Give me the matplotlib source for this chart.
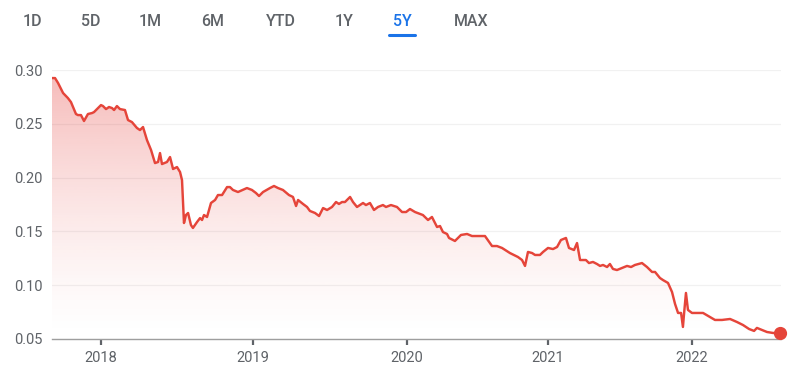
import matplotlib.pyplot as plt
import numpy as np
from matplotlib.scale import FuncScale

plt.rcParams['font.family'] = ['Roboto', 'DejaVu Sans']

# ==================== data ====================
# decimal year, price
YEARS = [
    2017.677, 2017.697, 2017.717, 2017.750, 2017.782, 2017.802, 2017.835, 2017.848,
    2017.868, 2017.888, 2017.914, 2017.941, 2017.954, 2017.980, 2018.000, 2018.013,
    2018.033, 2018.053, 2018.073, 2018.086, 2018.105, 2018.125, 2018.158, 2018.178,
    2018.204, 2018.237, 2018.257, 2018.277, 2018.303, 2018.330, 2018.356, 2018.376,
    2018.389, 2018.402, 2018.435, 2018.455, 2018.475, 2018.501, 2018.521, 2018.534,
    2018.547, 2018.560, 2018.574, 2018.593, 2018.606, 2018.633, 2018.653, 2018.666,
    2018.679, 2018.699, 2018.725, 2018.752, 2018.771, 2018.798, 2018.831, 2018.850,
    2018.870, 2018.903, 2018.962, 2018.995, 2019.021, 2019.041, 2019.067, 2019.112,
    2019.138, 2019.164, 2019.196, 2019.235, 2019.261, 2019.281, 2019.294, 2019.326,
    2019.352, 2019.371, 2019.404, 2019.430, 2019.456, 2019.482, 2019.514, 2019.540,
    2019.559, 2019.579, 2019.598, 2019.631, 2019.650, 2019.676, 2019.715, 2019.734,
    2019.760, 2019.786, 2019.812, 2019.844, 2019.864, 2019.896, 2019.935, 2019.968,
    2019.994, 2020.021, 2020.057, 2020.113, 2020.149, 2020.177, 2020.213, 2020.234,
    2020.255, 2020.284, 2020.298, 2020.340, 2020.383, 2020.426, 2020.461, 2020.553,
    2020.603, 2020.638, 2020.674, 2020.730, 2020.787, 2020.816, 2020.837, 2020.858,
    2020.887, 2020.908, 2020.943, 2020.965, 2021.000, 2021.035, 2021.063, 2021.090,
    2021.125, 2021.146, 2021.181, 2021.202, 2021.223, 2021.264, 2021.285, 2021.313,
    2021.341, 2021.362, 2021.383, 2021.411, 2021.431, 2021.452, 2021.480, 2021.515,
    2021.550, 2021.578, 2021.605, 2021.654, 2021.689, 2021.724, 2021.745, 2021.779,
    2021.800, 2021.835, 2021.863, 2021.884, 2021.905, 2021.926, 2021.939, 2021.946,
    2021.960, 2021.974, 2022.002, 2022.037, 2022.079, 2022.127, 2022.162, 2022.211,
    2022.267, 2022.315, 2022.357, 2022.399, 2022.434, 2022.454, 2022.489, 2022.524,
    2022.566, 2022.615,
]
PRICES = [
    0.2925, 0.2925, 0.2879, 0.2786, 0.2739, 0.2702, 0.2591, 0.2581,
    0.2581, 0.2526, 0.2591, 0.2600, 0.2609, 0.2646, 0.2674, 0.2665,
    0.2637, 0.2656, 0.2646, 0.2628, 0.2665, 0.2637, 0.2628, 0.2535,
    0.2516, 0.2461, 0.2442, 0.2470, 0.2349, 0.2256, 0.2135, 0.2145,
    0.2228, 0.2126, 0.2145, 0.2191, 0.2080, 0.2098, 0.2052, 0.1977,
    0.1578, 0.1652, 0.1671, 0.1559, 0.1532, 0.1587, 0.1624, 0.1606,
    0.1652, 0.1634, 0.1764, 0.1792, 0.1838, 0.1838, 0.1912, 0.1912,
    0.1885, 0.1866, 0.1903, 0.1885, 0.1857, 0.1829, 0.1866, 0.1903,
    0.1922, 0.1903, 0.1885, 0.1838, 0.1820, 0.1736, 0.1792, 0.1755,
    0.1727, 0.1690, 0.1671, 0.1643, 0.1717, 0.1699, 0.1727, 0.1773,
    0.1755, 0.1773, 0.1773, 0.1820, 0.1773, 0.1727, 0.1764, 0.1745,
    0.1764, 0.1699, 0.1727, 0.1745, 0.1727, 0.1745, 0.1727, 0.1680,
    0.1680, 0.1708, 0.1680, 0.1652, 0.1606, 0.1634, 0.1541, 0.1550,
    0.1494, 0.1476, 0.1439, 0.1411, 0.1467, 0.1476, 0.1457, 0.1457,
    0.1364, 0.1364, 0.1346, 0.1299, 0.1262, 0.1234, 0.1179, 0.1309,
    0.1299, 0.1281, 0.1281, 0.1309, 0.1346, 0.1336, 0.1355, 0.1420,
    0.1439, 0.1346, 0.1327, 0.1392, 0.1234, 0.1234, 0.1206, 0.1216,
    0.1197, 0.1179, 0.1188, 0.1169, 0.1197, 0.1151, 0.1141, 0.1160,
    0.1179, 0.1169, 0.1188, 0.1206, 0.1169, 0.1123, 0.1123, 0.1067,
    0.1048, 0.1021, 0.0937, 0.0826, 0.0742, 0.0742, 0.0612, 0.0723,
    0.0928, 0.0770, 0.0742, 0.0742, 0.0742, 0.0705, 0.0677, 0.0677,
    0.0686, 0.0658, 0.0630, 0.0593, 0.0575, 0.0603, 0.0584, 0.0565,
    0.0556, 0.0556,
]
Y_TICKS = [0.05, 0.10, 0.15, 0.20, 0.25, 0.30]
X_TICKS = [2018, 2019, 2020, 2021, 2022]
RANGE_BUTTONS = ['1D', '5D', '1M', '6M', 'YTD', '1Y', '5Y', 'MAX']
ACTIVE_RANGE = '5Y'

# ==================== layout ====================
W, H = 799, 379
RED = '#e5453a'
GREY_TEXT = '#5f6368'
BLUE = '#1a73e8'
# pixel positions of year boundaries (chart spacing is not uniform)
KNOT_YEARS = [2017, 2018, 2019, 2020, 2021, 2022, 2023]
KNOT_PX = [-50.7, 101, 252.7, 407, 548, 691.7, 835.4]
BUTTON_X = [32, 91, 150, 213, 281, 344, 402, 471]


def fwd(x):
    return np.interp(x, KNOT_YEARS, KNOT_PX)


def inv(p):
    return np.interp(p, KNOT_PX, KNOT_YEARS)


fig = plt.figure(figsize=(W / 100, H / 100), dpi=100)
ax = fig.add_axes([52 / W, 1 - 339 / H, (781 - 52) / W, (339 - 70) / H])
ax.set_xscale(FuncScale(ax.xaxis, (fwd, inv)))

# gradient fill under the line
poly = ax.fill_between(YEARS, PRICES, 0.05, color='none', lw=0)
alpha = np.linspace(0.0, 1.0, 256) ** 1.4 * 0.35
grad = np.zeros((256, 1, 4))
grad[..., 0] = 229 / 255
grad[..., 1] = 57 / 255
grad[..., 2] = 53 / 255
grad[:, 0, 3] = alpha
im = ax.imshow(grad, extent=[0, 1, 0, 1], transform=ax.transAxes,
               aspect='auto', origin='lower', interpolation='bilinear', zorder=1)
im.set_clip_path(poly.get_paths()[0], transform=ax.transData)

ax.plot(YEARS, PRICES, color=RED, lw=1.75, zorder=3, solid_joinstyle='round')
ax.plot(YEARS[-1], PRICES[-1], 'o', color=RED, ms=8.5, zorder=4, clip_on=False)

ax.set_xlim(inv(52), inv(781))
ax.set_ylim(0.05, 0.30)

ax.set_yticks(Y_TICKS)
ax.set_yticklabels([f'{v:.2f}' for v in Y_TICKS])
ax.set_xticks(X_TICKS)
ax.set_xticklabels([str(y) for y in X_TICKS])
ax.xaxis.set_minor_locator(plt.NullLocator())
ax.grid(axis='y', color='#f1f1f1', lw=0.9, zorder=0)
ax.set_axisbelow(True)

for side in ['top', 'right', 'left']:
    ax.spines[side].set_visible(False)
ax.spines['bottom'].set_color('#9e9e9e')
ax.spines['bottom'].set_linewidth(1.0)
ax.spines['bottom'].set_zorder(2)

ax.tick_params(axis='y', length=0, pad=7, labelsize=10.5, labelcolor=GREY_TEXT)
ax.tick_params(axis='x', length=4.5, width=1.6, color='#5f6368', pad=4,
               labelsize=10.5, labelcolor=GREY_TEXT)

# range selector on top
for label, bx in zip(RANGE_BUTTONS, BUTTON_X):
    col = BLUE if label == ACTIVE_RANGE else GREY_TEXT
    fig.text(bx / W, 1 - 22 / H, label, ha='center', va='center',
             fontsize=11.5, color=col, fontweight='medium')
    if label == ACTIVE_RANGE:
        fig.add_artist(plt.Line2D([(bx - 13) / W, (bx + 13) / W], [1 - 34.5 / H] * 2,
                                  color=BLUE, lw=2.2, solid_capstyle='round'))

fig.savefig('out.png', dpi=100)
